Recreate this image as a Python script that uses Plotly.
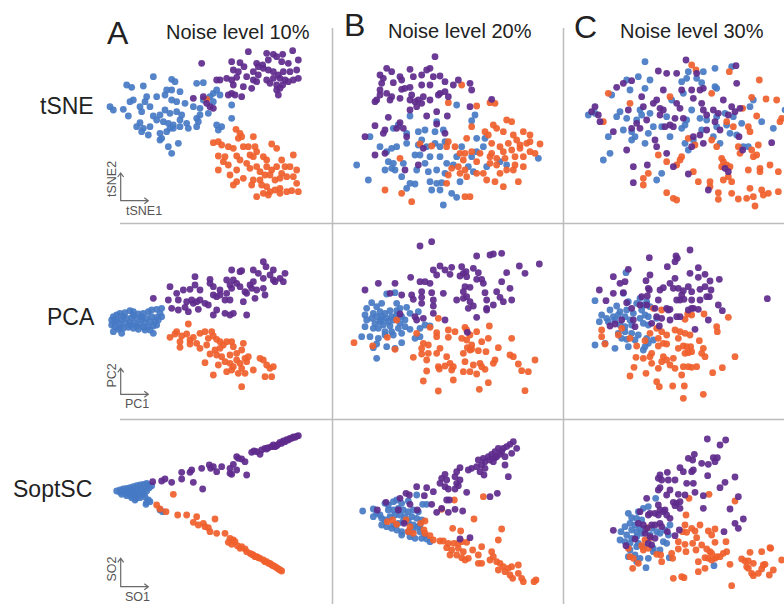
import plotly.graph_objects as go

W, H = 784, 604
S = 3  # data units per pixel in each panel's embedding frame

BLUE = "#4679c4"
PURPLE = "#5e2a8c"
ORANGE = "#f05f2c"

# ---------------- Data (embedding coordinates, per panel) ----------------
tsne10_purple = [(445,155),(500,160),(520,163),(548,163),(578,152),(595,180),(505,180),(530,170),(545,185),(565,190),
    (488,195),(470,190),(395,185),(420,188),(432,200),(400,210),(415,215),(460,215),(305,190),(475,200),(490,205),
    (505,210),(520,215),(535,225),(550,215),(570,215),(590,210),(380,235),(395,240),(410,232),(440,230),(460,240),
    (475,225),(500,240),(520,235),(540,235),(555,240),(580,240),(595,235),(360,240),(350,240),(400,255),(430,260),
    (455,265),(470,245),(510,250),(530,255),(548,255),(565,245),(385,285),(395,280),(405,285),(425,290),(535,285),
    (530,270),(540,265),(280,295),(310,290),(330,320),(340,325),(320,310)]
tsne10_blue = [(160,230),(215,238),(225,245),(80,255),(95,262),(130,258),(290,250),(310,248),(215,270),(240,275),
    (200,270),(195,285),(170,290),(140,290),(100,300),(90,305),(135,305),(150,320),(120,320),(30,320),(40,330),
    (70,328),(85,348),(125,335),(160,348),(180,345),(195,330),(210,340),(230,335),(245,345),(215,300),(230,305),
    (255,310),(280,320),(300,325),(310,300),(330,290),(340,280),(350,270),(360,285),(340,305),(325,340),(300,345),
    (290,355),(120,368),(130,385),(150,380),(170,360),(190,365),(205,370),(220,375),(240,360),(260,370),(265,385),
    (290,380),(295,365),(350,375),(365,380),(395,355),(395,315),(355,390),(145,405),(180,400),(185,415),(200,395),
    (210,385),(220,385),(240,380),(180,420),(205,440),(235,430),(215,460),(125,395),(110,380)]
tsne10_orange = [(320,298),(408,388),(420,400),(415,415),(425,410),(460,410),(340,428),(355,425),(365,435),(385,440),
    (400,445),(430,440),(445,440),(465,440),(470,455),(515,432),(530,445),(355,468),(375,470),(410,468),(420,480),
    (450,465),(460,470),(490,470),(500,480),(580,465),(545,480),(355,510),(370,485),(385,495),(410,510),(440,490),
    (450,505),(470,500),(480,515),(500,500),(515,510),(530,500),(545,520),(555,500),(570,500),(590,510),(390,525),
    (410,545),(430,535),(460,540),(480,540),(495,525),(510,525),(525,540),(540,535),(560,530),(580,530),(590,550),
    (500,560),(510,575),(525,570),(540,565),(560,575),(575,572),(470,590),(490,580),(505,585),(540,580),(595,575),
    (455,555),(485,555),(400,555)]

tsne20_purple = [(315,170),(170,205),(185,215),(240,208),(290,210),(300,205),(150,225),(160,235),(210,230),(215,240),
    (250,230),(275,225),(310,230),(330,228),(345,245),(385,240),(420,250),(155,250),(190,248),(225,265),(215,268),
    (240,262),(275,255),(300,255),(150,270),(170,280),(185,290),(180,300),(135,305),(140,300),(150,285),(245,285),
    (265,300),(275,310),(280,290),(300,300),(325,285),(345,275),(355,290),(330,280),(425,270),(370,255),(210,295),
    (240,300),(255,305),(260,320),(240,330),(290,348),(320,335),(352,348),(420,320),(485,298),(175,352),(135,377),
    (165,390),(105,410),(160,400),(200,385),(210,368),(220,385),(230,410),(320,372),(345,400),(280,445),(135,465),
    (165,460),(265,495),(225,510)]
tsne20_blue = [(380,315),(435,345),(425,362),(320,365),(240,348),(190,385),(205,375),(120,410),(230,400),(265,395),
    (275,420),(285,390),(315,395),(340,390),(150,440),(185,445),(200,440),(230,430),(265,435),(290,440),(315,430),
    (330,440),(345,425),(395,440),(440,415),(465,415),(460,440),(440,455),(80,495),(170,455),(175,485),(190,490),
    (220,490),(255,465),(270,465),(285,490),(300,470),(330,470),(350,490),(370,495),(380,470),(425,470),(415,500),
    (185,505),(165,510),(195,510),(260,510),(295,515),(320,510),(345,520),(430,515),(470,500),(510,485),(530,495),
    (625,475),(115,540),(215,530),(240,550),(230,565),(255,552),(300,545),(320,550),(335,548),(305,570),(330,570),
    (365,580),(380,592),(340,615),(390,545)]
tsne20_orange = [(395,255),(355,308),(440,318),(480,308),(495,310),(530,360),(545,365),(425,380),(490,375),(500,385),
    (520,395),(550,405),(580,395),(600,405),(465,395),(475,405),(410,415),(355,425),(375,440),(270,432),(305,438),
    (350,440),(390,460),(405,460),(425,455),(450,460),(485,430),(510,440),(535,430),(560,420),(570,435),(590,430),
    (600,425),(630,432),(615,460),(600,455),(570,445),(545,450),(520,455),(485,460),(210,475),(400,480),(440,485),
    (480,470),(500,475),(525,475),(555,470),(580,470),(480,490),(500,495),(555,495),(550,510),(530,510),(580,500),
    (385,500),(365,505),(405,510),(440,520),(460,520),(510,520),(355,525),(390,520),(350,550),(410,530),(470,540),
    (495,545),(520,560),(565,545),(165,570),(215,580),(245,605),(405,590),(420,590)]

tsne30_blue = [(255,185),(235,230),(200,240),(210,270),(155,285),(180,335),(255,265),(270,240),(385,215),(430,215),
    (380,235),(410,235),(425,248),(465,205),(515,200),(470,265),(465,260),(240,330),(245,345),(270,340),(230,360),
    (200,355),(170,350),(190,390),(145,410),(150,460),(130,480),(215,395),(215,420),(225,410),(255,430),(265,400),
    (280,380),(305,380),(320,350),(330,410),(335,300),(365,245),(370,280),(395,330),(380,360),(375,375),(365,385),
    (420,355),(440,360),(495,340),(470,350),(500,375),(520,350),(545,370),(570,320),(580,300),(605,365),(675,330),
    (640,385),(375,430),(400,420),(385,450),(460,410),(480,430),(530,405),(510,400),(550,440),(565,440),(305,520),
    (290,540),(470,380),(425,390),(85,345),(105,340)]
tsne30_purple = [(378,180),(528,197),(295,213),(320,220),(350,220),(410,220),(215,242),(170,262),(190,250),(310,270),
    (245,290),(280,310),(290,300),(300,325),(250,320),(205,330),(105,320),(95,335),(115,345),(120,365),(160,395),
    (215,385),(240,385),(230,370),(260,360),(300,345),(310,330),(330,375),(340,380),(315,380),(365,270),(395,270),
    (420,270),(430,265),(400,295),(425,310),(430,330),(440,345),(460,330),(475,340),(505,345),(525,335),(540,325),
    (530,250),(490,300),(515,320),(480,390),(465,365),(440,390),(420,405),(400,410),(395,440),(430,430),(345,355),
    (370,355),(360,325),(350,310),(200,450),(290,440),(320,460),(285,420),(220,500),(262,495),(340,500),(385,522),
    (495,505),(505,515),(635,428),(537,410),(548,450),(220,548),(445,570)]
tsne30_orange = [(395,195),(408,210),(508,215),(598,240),(145,280),(210,310),(330,290),(455,280),(575,292),(618,297),
    (650,300),(665,355),(660,365),(590,348),(548,325),(130,365),(500,365),(520,380),(565,380),(570,395),(385,415),
    (405,435),(455,420),(470,440),(535,440),(575,450),(540,460),(595,435),(590,465),(580,470),(295,465),(365,470),
    (360,480),(320,485),(350,495),(485,475),(490,485),(500,495),(485,500),(510,500),(565,510),(600,505),(630,495),
    (655,515),(600,515),(250,535),(265,520),(250,555),(400,515),(415,545),(450,545),(450,560),(490,540),(505,530),
    (515,545),(570,565),(605,570),(625,580),(655,575),(320,578),(340,595),(350,600),(475,578),(475,598),(515,580),
    (535,597),(560,595),(580,590),(610,585),(585,618)]

pca10_blue = [(40,290),(50,285),(60,280),(75,278),(90,272),(100,275),(115,282),(130,280),(145,275),(155,270),
    (170,268),(185,265),(180,280),(35,300),(50,300),(65,298),(80,295),(95,293),(110,295),(125,298),(140,295),
    (155,290),(170,292),(185,290),(35,315),(45,320),(60,312),(75,310),(90,308),(105,310),(120,312),(135,308),
    (150,305),(165,305),(175,300),(40,335),(55,328),(70,325),(85,322),(100,325),(115,328),(130,322),(145,320),
    (160,318),(170,315),(65,340),(160,340),(135,330),(45,305),(70,290),(100,285),(125,290),(60,322),(90,315),
    (110,318),(150,330)]
pca10_purple = [(490,125),(498,140),(425,152),(460,150),(475,160),(520,150),(555,160),(395,150),(420,155),(285,170),
    (330,178),(380,180),(400,180),(410,190),(390,195),(450,195),(460,185),(490,175),(510,165),(520,180),(540,175),
    (550,185),(525,185),(210,200),(250,210),(270,208),(285,195),(300,210),(330,190),(340,200),(360,210),(380,220),
    (395,205),(420,200),(435,215),(455,205),(470,210),(490,205),(495,225),(465,235),(440,220),(160,235),(205,240),
    (230,220),(235,240),(260,245),(275,240),(280,250),(290,245),(300,240),(315,250),(325,255),(340,225),(350,230),
    (360,225),(375,240),(390,240),(430,245),(215,265),(235,270),(255,262),(265,275),(295,268),(350,270),(340,285),
    (375,280),(390,285),(400,280),(440,285)]
pca10_orange = [(265,312),(230,335),(210,352),(225,342),(245,348),(260,342),(270,360),(280,352),(300,340),(315,335),
    (335,335),(340,348),(325,355),(290,370),(270,372),(240,365),(240,382),(300,385),(320,375),(350,358),(360,365),
    (370,375),(380,365),(395,365),(400,380),(430,370),(425,390),(410,400),(390,405),(360,385),(345,390),(330,402),
    (350,405),(365,410),(375,425),(390,430),(315,428),(355,435),(380,455),(400,440),(410,420),(420,430),(435,415),
    (440,425),(425,445),(445,410),(480,415),(490,420),(460,450),(500,435),(510,445),(520,440),(495,470),(515,470),
    (435,460),(415,460),(340,465),(425,500),(395,450)]

pca20_purple = [(270,78),(305,65),(440,108),(480,105),(490,102),(515,100),(628,132),(568,138),(585,160),(330,138),
    (345,150),(365,142),(395,140),(408,155),(400,160),(430,145),(445,158),(530,158),(310,150),(320,165),(360,163),
    (390,168),(410,170),(242,172),(145,190),(195,190),(270,185),(285,185),(300,190),(440,178),(455,178),(460,190),
    (515,185),(105,210),(180,220),(215,225),(245,225),(275,215),(305,218),(340,220),(405,200),(420,202),(400,215),
    (465,218),(500,215),(540,205),(250,238),(275,232),(310,240),(380,240),(400,235),(410,230),(420,245),(470,240),
    (510,232),(520,245),(545,240),(275,250),(310,258),(415,265),(430,258),(470,265),(490,255),(210,282),(255,290),
    (260,300),(280,295),(310,280),(345,300),(440,292),(470,270),(412,337)]
pca20_blue = [(170,222),(195,218),(125,248),(140,260),(155,250),(200,250),(230,262),(110,265),(105,285),(130,280),
    (150,275),(165,280),(180,272),(200,272),(210,265),(240,280),(265,275),(110,300),(125,295),(140,290),(155,290),
    (170,295),(185,290),(200,285),(215,290),(225,300),(135,310),(150,305),(160,315),(175,305),(190,300),(210,310),
    (225,320),(240,328),(105,320),(145,325),(165,335),(185,335),(205,325),(120,350),(95,350),(145,355),(165,345),
    (190,345),(215,340),(270,325),(255,355),(285,315),(300,318),(270,350),(215,368),(170,380),(140,372),(130,383),
    (140,415),(195,385),(155,300),(180,318),(200,295),(130,325)]
pca20_orange = [(200,300),(172,352),(128,378),(72,368),(195,388),(325,295),(300,322),(320,338),(355,330),(375,335),
    (405,322),(410,330),(478,318),(545,355),(260,340),(280,370),(295,375),(320,350),(355,352),(395,355),(420,345),
    (440,335),(455,365),(475,355),(425,375),(412,383),(420,390),(445,392),(410,360),(250,412),(275,402),(295,400),
    (275,385),(320,400),(330,385),(350,410),(400,400),(425,388),(468,395),(505,383),(540,405),(550,410),(615,420),
    (290,420),(325,440),(345,438),(360,430),(370,440),(405,425),(430,435),(450,430),(455,440),(490,430),(495,420),
    (565,432),(328,447),(365,450),(400,455),(420,455),(440,462),(465,448),(575,452),(595,455),(290,453),(280,483),
    (370,480),(475,488),(325,513),(448,508),(585,512)]

pca30_purple = [(390,90),(348,108),(352,115),(268,113),(345,125),(322,140),(415,143),(435,163),(205,148),(160,170),
    (195,185),(180,190),(270,165),(258,182),(345,175),(390,160),(415,172),(450,183),(478,178),(118,210),(160,220),
    (190,218),(265,205),(268,210),(300,210),(310,203),(330,190),(340,205),(355,205),(370,212),(385,200),(395,215),
    (420,208),(435,200),(453,210),(440,230),(448,230),(420,240),(365,225),(350,240),(360,240),(372,238),(395,240),
    (138,242),(622,236),(475,255),(487,272),(245,230),(262,228),(295,240),(240,255),(260,255),(200,248),(215,265),
    (285,265),(320,265),(325,270),(330,268),(385,270),(395,265),(400,265),(415,268),(350,290),(360,290),(330,300),
    (305,295),(290,290),(275,310),(220,300),(185,300),(150,318),(165,312),(225,320),(298,318),(445,300),(405,328)]
pca30_blue = [(198,158),(105,242),(190,220),(240,235),(170,258),(205,245),(230,250),(250,255),(260,245),(270,260),
    (150,270),(180,275),(200,270),(220,280),(245,270),(255,285),(125,285),(140,295),(160,290),(175,285),(195,290),
    (210,300),(240,295),(265,290),(290,295),(118,305),(145,305),(165,300),(180,315),(195,320),(215,315),(250,310),
    (265,315),(175,340),(195,335),(215,340),(235,345),(185,355),(200,358),(225,360),(260,355),(280,360),(105,375),
    (135,370),(165,385),(205,380),(255,380),(265,370),(250,390)]
pca30_orange = [(280,265),(305,270),(395,285),(383,282),(375,298),(432,282),(505,292),(470,320),(472,335),(125,330),
    (125,350),(135,372),(185,325),(175,345),(210,355),(270,340),(290,325),(305,335),(320,345),(345,330),(360,335),
    (375,340),(355,355),(390,345),(230,378),(295,355),(255,362),(295,378),(310,370),(320,372),(355,385),(370,378),
    (380,380),(392,380),(375,400),(385,398),(395,395),(418,362),(430,385),(425,400),(435,410),(525,410),(410,440),
    (228,412),(250,415),(270,410),(275,400),(310,410),(320,420),(340,415),(305,425),(330,435),(275,430),(222,442),
    (258,460),(210,468),(295,445),(345,445),(370,440),(385,440),(395,442),(365,465),(458,458),(487,443),(290,485),
    (298,500),(338,498),(373,498),(370,535),(430,523)]

so10_blue = [(350,228),(360,225),(370,222),(380,220),(390,218),(400,215),(410,212),(420,210),(430,208),(440,205),
    (445,210),(455,212),(360,232),(372,230),(385,228),(398,226),(410,225),(422,222),(435,220),(448,218),(365,238),
    (378,236),(390,235),(402,234),(415,232),(428,230),(440,228),(380,242),(393,242),(405,242),(418,240),(430,238),
    (395,248),(408,250),(420,248),(405,255),(435,245),(445,255),(440,262),(450,260),(438,268),(480,285),(488,290)]
so10_purple = [(458,200),(485,198),(495,192),(515,202),(545,192),(545,172),(575,165),(570,172),(605,160),(580,202),
    (608,222),(628,150),(632,160),(650,170),(640,155),(665,155),(690,175),(690,160),(700,148),(710,125),(715,130),
    (725,132),(735,140),(710,165),(695,178),(740,180),(755,112),(770,110),(785,105),(795,100),(805,98),(815,95),
    (825,95),(780,118),(820,90),(835,88),(845,85),(855,80),(865,75),(875,70),(885,67),(895,62),(850,78),(860,74),
    (870,70),(880,66),(890,64),(840,82),(830,92),(800,102),(762,108)]
so10_orange = [(520,238),(470,270),(480,282),(498,290),(533,300),(560,300),(590,305),(645,312),(580,322),(595,330),
    (610,325),(615,335),(625,338),(630,350),(650,355),(675,355),(690,370),(700,375),(705,380),(685,382),(695,388),
    (712,392),(720,400),(735,402),(740,410),(750,415),(760,420),(770,425),(780,430),(790,435),(800,440),(810,445),
    (820,452),(830,458),(840,465),(845,468),(765,425),(795,440),(815,450),(835,462),(725,395),(755,418),(775,428),
    (805,445),(825,455)]

so20_purple = [(550,80),(540,88),(560,100),(520,100),(505,100),(495,110),(485,118),(510,118),(525,125),(545,115),
    (475,125),(460,130),(445,135),(465,140),(480,135),(495,128),(455,150),(440,155),(425,160),(415,165),(465,160),
    (450,170),(462,180),(535,185),(525,150),(490,140),(500,125),(515,110),(530,95),(390,158),(380,170),(375,185),
    (345,178),(335,190),(350,195),(330,205),(345,215),(380,205),(390,195),(385,212),(375,222),(355,222),(410,232),
    (260,215),(290,218),(310,230),(283,242),(228,235),(238,240),(210,250),(168,262),(480,245),(502,235),(240,268),
    (262,285),(305,268),(320,292),(335,280),(355,292),(375,283),(398,288),(358,255),(350,255),(205,285),(142,285),
    (222,325),(390,372),(420,368)]
so20_blue = [(98,288),(130,282),(140,295),(130,305),(150,300),(165,265),(175,270),(190,260),(200,255),(215,265),
    (235,258),(260,240),(278,268),(290,268),(175,285),(190,285),(205,280),(220,285),(235,290),(250,285),(265,290),
    (155,310),(165,315),(180,305),(195,300),(210,300),(225,305),(245,305),(260,310),(275,315),(155,330),(170,335),
    (190,330),(205,325),(220,318),(235,320),(250,330),(265,335),(270,330),(185,340),(200,345),(215,350),(235,350),
    (250,345),(270,350),(285,360),(215,360),(240,365),(255,370),(275,370),(290,372),(300,380)]
so20_orange = [(460,245),(373,255),(335,283),(432,312),(515,342),(505,375),(172,320),(188,315),(200,328),(228,315),
    (240,335),(235,350),(250,355),(272,325),(285,318),(282,345),(285,355),(300,362),(310,375),(330,378),(340,378),
    (368,340),(392,348),(355,385),(372,385),(385,385),(395,380),(410,382),(350,398),(365,405),(385,400),(400,410),
    (360,420),(380,420),(395,428),(405,435),(415,430),(428,405),(455,395),(445,420),(445,445),(455,445),(485,410),
    (490,425),(480,435),(500,440),(510,445),(520,455),(535,460),(545,455),(565,450),(505,465),(525,470),(540,480),
    (548,490),(565,475),(575,490),(580,500),(612,500),(618,495)]

so30_purple = [(442,72),(497,75),(480,90),(403,118),(385,130),(398,135),(460,128),(472,128),(465,140),(425,145),
    (445,148),(360,158),(370,170),(395,170),(400,165),(300,180),(295,190),(305,195),(325,195),(345,195),(322,172),
    (380,205),(400,205),(443,182),(525,186),(495,202),(480,218),(300,218),(295,225),(320,240),(330,225),(355,238),
    (375,240),(405,232),(260,250),(340,262),(350,265),(360,260),(345,272),(360,280),(295,270),(300,285),(285,295),
    (295,300),(310,290),(315,285),(320,300),(430,242),(535,245),(510,282),(430,280),(550,312),(240,290),(265,300),
    (270,295),(235,325),(250,330),(260,340),(275,330),(285,330),(300,325),(330,310),(305,335),(322,350),(255,355),
    (270,365),(285,370),(225,372),(265,385),(275,390),(198,392),(160,346),(345,362),(358,345),(492,350),(525,325),
    (535,340)]
so30_blue = [(287,250),(265,275),(250,280),(235,290),(205,295),(215,308),(230,310),(245,315),(210,325),(225,330),
    (240,340),(255,345),(195,335),(215,345),(230,350),(245,355),(183,350),(200,360),(215,370),(230,365),(180,375),
    (195,380),(210,385),(235,385),(250,395),(230,395),(210,405),(225,420),(240,430),(230,440),(205,425),(258,458),
    (265,430),(280,400),(280,410),(300,405),(310,380),(320,385),(325,360),(300,355),(315,345),(290,350),(330,330),
    (275,340),(462,452),(328,428),(270,360)]
so30_orange = [(447,238),(525,258),(387,250),(378,300),(375,330),(368,350),(380,352),(395,340),(405,348),(420,330),
    (445,348),(465,342),(455,360),(410,368),(355,380),(375,388),(398,385),(425,390),(465,382),(498,380),(262,338),
    (270,368),(255,375),(245,392),(250,405),(265,400),(290,418),(302,420),(335,415),(338,430),(355,402),(378,410),
    (408,405),(440,402),(450,410),(455,415),(465,430),(480,425),(490,415),(500,410),(415,440),(435,428),(445,430),
    (455,435),(510,448),(470,425),(205,400),(210,425),(220,430),(235,445),(218,460),(305,440),(340,490),(365,485),
    (372,488),(415,470),(435,460),(515,512),(545,432),(555,438),(565,438),(570,412),(560,455),(565,460),(580,445),
    (575,475),(580,482),(595,475),(605,462),(610,450),(605,410),(630,398),(632,400),(615,448),(628,480),(640,465),
    (665,435)]

column_titles = ["Noise level 10%", "Noise level 20%", "Noise level 30%"]
column_letters = ["A", "B", "C"]
row_names = ["tSNE", "PCA", "SoptSC"]
axis_names = [("tSNE1", "tSNE2"), ("PC1", "PC2"), ("SO1", "SO2")]

# panel frames (pixel window: left, top, width, height)
panels = [
    ((100, 0, 235, 225), tsne10_blue, tsne10_orange, tsne10_purple),
    ((330, 0, 235, 225), tsne20_blue, tsne20_orange, tsne20_purple),
    ((560, 0, 224, 225), tsne30_blue, tsne30_orange, tsne30_purple),
    ((100, 220, 235, 200), pca10_blue, pca10_orange, pca10_purple),
    ((330, 220, 235, 200), pca20_blue, pca20_orange, pca20_purple),
    ((560, 220, 224, 200), pca30_blue, pca30_orange, pca30_purple),
    ((0, 415, 335, 189), so10_blue, so10_orange, so10_purple),
    ((330, 415, 235, 189), so20_blue, so20_orange, so20_purple),
    ((560, 415, 224, 189), so30_blue, so30_orange, so30_purple),
]

def px(x):
    return x / W

def py(y):
    return 1 - y / H

fig = go.Figure()
layout_axes = {}
for i, ((x0, y0, w, h), b, o, p) in enumerate(panels, start=1):
    sx = "" if i == 1 else str(i)
    for pts, col in ((b, BLUE), (o, ORANGE), (p, PURPLE)):
        fig.add_trace(go.Scatter(
            x=[q[0] for q in pts], y=[q[1] for q in pts], mode="markers",
            marker=dict(color=col, size=6.8, opacity=0.92, line=dict(width=0)),
            xaxis="x" + sx, yaxis="y" + sx, hoverinfo="skip", showlegend=False))
    layout_axes["xaxis" + sx] = dict(domain=[px(x0), px(x0 + w)], range=[0, w * S],
                                     visible=False, anchor="y" + sx, fixedrange=True)
    layout_axes["yaxis" + sx] = dict(domain=[py(y0 + h), py(y0)], range=[h * S, 0],
                                     visible=False, anchor="x" + sx, fixedrange=True)

shapes = []
GRID = "#bcbcbc"
for xv in (332.5, 563.5):
    shapes.append(dict(type="line", xref="paper", yref="paper", x0=px(xv), x1=px(xv),
                       y0=py(28), y1=py(604), line=dict(color=GRID, width=1.5)))
for yv in (223.5, 419.5):
    shapes.append(dict(type="line", xref="paper", yref="paper", x0=px(120), x1=px(784),
                       y0=py(yv), y1=py(yv), line=dict(color=GRID, width=1.5)))

ARW = "#6a6a6a"
annotations = []
arrow_rows = [(200.7, 173), (394.3, 368.3), (586.7, 558.3)]
label_pos = [((144, 211), (112, 179)), ((137, 404), (111.5, 376)), ((137, 597), (111.5, 569))]
for (oy, ty), (n1, n2), ((l1x, l1y), (l2x, l2y)) in zip(arrow_rows, axis_names, label_pos):
    ox, rx = 120.7, 148.3
    path = (f"M {px(ox)} {py(ty)} L {px(ox)} {py(oy)} L {px(rx)} {py(oy)} "
            f"M {px(ox-3)} {py(ty+4)} L {px(ox)} {py(ty)} L {px(ox+3)} {py(ty+4)} "
            f"M {px(rx-4)} {py(oy-3)} L {px(rx)} {py(oy)} L {px(rx-4)} {py(oy+3)}")
    shapes.append(dict(type="path", xref="paper", yref="paper", path=path,
                       line=dict(color=ARW, width=1.2)))
    annotations.append(dict(text=n1, x=px(l1x), y=py(l1y), xref="paper", yref="paper",
                            showarrow=False, font=dict(size=12.5, color="#555", family="Liberation Sans"),
                            xanchor="center", yanchor="middle"))
    annotations.append(dict(text=n2, x=px(l2x), y=py(l2y), xref="paper", yref="paper",
                            showarrow=False, textangle=-90,
                            font=dict(size=12.5, color="#555", family="Liberation Sans"),
                            xanchor="center", yanchor="middle"))

letter_pos = [(118, 33), (354, 25), (585, 27)]
title_pos = [(238, 32), (460, 31), (692, 31)]
for t, l, (lx, ly), (tx, ty) in zip(column_titles, column_letters, letter_pos, title_pos):
    annotations.append(dict(text=l, x=px(lx), y=py(ly), xref="paper", yref="paper", showarrow=False,
                            font=dict(size=32, color="#222", family="Liberation Sans"),
                            xanchor="center", yanchor="middle"))
    annotations.append(dict(text=t, x=px(tx), y=py(ty), xref="paper", yref="paper", showarrow=False,
                            font=dict(size=20, color="#222", family="Liberation Sans"),
                            xanchor="center", yanchor="middle"))

row_pos = [(67, 106), (71, 317), (52, 489)]
for r, (rx_, ry_) in zip(row_names, row_pos):
    annotations.append(dict(text=r, x=px(rx_), y=py(ry_), xref="paper", yref="paper", showarrow=False,
                            font=dict(size=23, color="#222", family="Liberation Sans"),
                            xanchor="center", yanchor="middle"))

fig.update_layout(
    width=W, height=H, margin=dict(l=0, r=0, t=0, b=0),
    paper_bgcolor="white", plot_bgcolor="rgba(0,0,0,0)",
    shapes=shapes, annotations=annotations, **layout_axes)

fig.write_html("out.html", config={"displayModeBar": False},
               post_script="document.body.style.margin='0px';document.body.style.overflow='hidden';")
